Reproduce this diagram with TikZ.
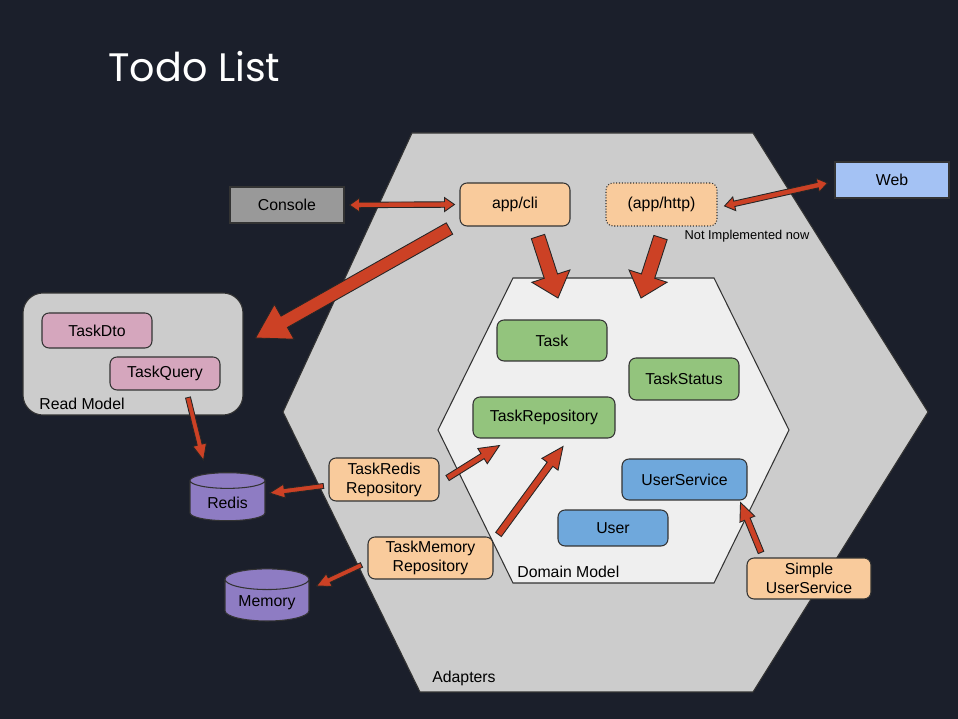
\documentclass[tikz,border=0pt]{standalone}
\usepackage{fontspec}
\setmainfont{Liberation Sans}
\newfontfamily\titlefont{Poppins}
\usetikzlibrary{shapes.geometric, calc, positioning}

\definecolor{bgnavy}{HTML}{1B1F2B}
\definecolor{hexgray}{HTML}{CCCCCC}
\definecolor{hexlight}{HTML}{EFEFEF}
\definecolor{peach}{HTML}{F9CB9C}
\definecolor{leaf}{HTML}{93C47D}
\definecolor{skyblue}{HTML}{6FA8DC}
\definecolor{paleblue}{HTML}{A4C2F4}
\definecolor{pinkish}{HTML}{D5A6BD}
\definecolor{lavender}{HTML}{8E7CC3}
\definecolor{consolegray}{HTML}{999999}
\definecolor{arrowred}{HTML}{CC4125}
\definecolor{edgedark}{HTML}{333333}

\tikzset{
  txt/.style={font=\fontsize{9}{10.8}\selectfont, text=black, align=center},
  box/.style={txt, draw=edgedark, line width=0.6pt, rounded corners=4pt, inner sep=2pt},
  adapterbox/.style={box, fill=peach, minimum width=2.2cm, minimum height=0.86cm},
  domainbox/.style={box, fill=leaf, minimum width=2.2cm, minimum height=0.82cm},
  userbox/.style={box, fill=skyblue, minimum width=2.2cm, minimum height=0.82cm},
  querybox/.style={box, fill=pinkish, minimum width=2.2cm, minimum height=0.68cm},
  plainbox/.style={txt, draw=edgedark, line width=0.6pt, minimum width=2.28cm, minimum height=0.72cm},
  db/.style={txt, cylinder, shape border rotate=90, aspect=0.3, draw=edgedark, line width=0.6pt, fill=lavender},
  lbl/.style={txt, inner sep=0pt, anchor=west},
  fat/.style={fill=arrowred, draw=black!85, line width=0.5pt, line join=miter},
}

% block arrow: tail, tip, half shaft, head length, half head
\newcommand{\fatarrow}[5]{%
  \coordinate (fa-t) at (#1);
  \coordinate (fa-h) at (#2);
  \coordinate (fa-b) at ($(fa-h)!#4!(fa-t)$);
  \filldraw[fat] ($(fa-t)!#3!90:(fa-h)$) -- ($(fa-b)!#3!-90:(fa-t)$)
    -- ($(fa-b)!#5!-90:(fa-t)$) -- (fa-h) -- ($(fa-b)!#5!90:(fa-t)$)
    -- ($(fa-b)!#3!90:(fa-t)$) -- ($(fa-t)!#3!-90:(fa-h)$) -- cycle;
}
% block arrow with two heads
\newcommand{\fatdarrow}[5]{%
  \coordinate (fa-a) at (#1);
  \coordinate (fa-h) at (#2);
  \coordinate (fa-b) at ($(fa-h)!#4!(fa-a)$);
  \coordinate (fa-c) at ($(fa-a)!#4!(fa-h)$);
  \filldraw[fat] (fa-a) -- ($(fa-c)!#5!90:(fa-h)$) -- ($(fa-c)!#3!90:(fa-h)$)
    -- ($(fa-b)!#3!-90:(fa-a)$) -- ($(fa-b)!#5!-90:(fa-a)$) -- (fa-h)
    -- ($(fa-b)!#5!90:(fa-a)$) -- ($(fa-b)!#3!90:(fa-a)$)
    -- ($(fa-c)!#3!-90:(fa-h)$) -- ($(fa-c)!#5!-90:(fa-h)$) -- cycle;
}

\begin{document}
\begin{tikzpicture}[x=0.02cm, y=-0.02cm]
% Background
\fill[bgnavy] (0,0) rectangle (958,719);
\useasboundingbox (0,0) rectangle (958,719);

\node[anchor=base west, inner sep=0pt, text=white, font=\titlefont\fontsize{22.6}{26}\selectfont] (title) at (108,82) {Todo List};

% Adapters ring
\draw[fill=hexgray, draw=edgedark, line width=0.6pt] (412,133) -- (753,133) -- (928,412) -- (753,692) -- (420,692) -- (283,412) -- cycle;
\node[lbl] (adapterslbl) at (432,678) {Adapters};

% Domain core
\coordinate (dtop) at (513,278);
\draw[fill=hexlight, draw=edgedark, line width=0.6pt] (dtop) -- (714,278) -- (789,430) -- (714,583) -- (513,583) -- (438,430) -- cycle;
\node[lbl] (domainlbl) at (517,572) {Domain Model};

% Read model
\node[draw=edgedark, line width=0.6pt, fill=hexgray, rounded corners=0.4cm, minimum width=4.4cm, minimum height=2.44cm] (readmodel) at (133,354) {};
\node[lbl] (readlbl) at (39,404) {Read Model};
\node[querybox, minimum height=0.7cm] (taskdto) at (97,330.5) {TaskDto};
\node[querybox, minimum height=0.66cm] (taskquery) at (165,373.5) {TaskQuery};

% Drivers
\node[plainbox, fill=consolegray] (console) at (287,205) {Console};
\node[plainbox, fill=paleblue] (web) at (892,180) {Web};
\node[adapterbox] (cli) at (515,204.5) {app/cli};
\node[adapterbox, minimum width=2.22cm, densely dotted] (http) at (661.5,204.5) {(app/http)};
\node[txt, font=\fontsize{7.3}{9}\selectfont] (notimpl) at (747,236) {Not Implemented now};

% Domain objects
\node[domainbox] (task) at (552,340.5) {Task};
\node[domainbox, minimum height=0.84cm] (taskstatus) at (684,379) {TaskStatus};
\node[domainbox, minimum width=2.84cm] (taskrepo) at (544,417.5) {TaskRepository};
\node[userbox, minimum width=2.5cm] (userservice) at (684.5,479.5) {UserService};
\node[userbox, minimum height=0.72cm] (user) at (613,528) {User};

% Driven adapters
\node[adapterbox] (redisrepo) at (384,479.5) {TaskRedis\\Repository};
\node[adapterbox, minimum width=2.5cm, minimum height=0.84cm] (memrepo) at (430.5,558) {TaskMemory\\Repository};
\node[adapterbox, minimum width=2.48cm, minimum height=0.82cm] (simplesvc) at (809,578.5) {Simple\\UserService};

% Stores
\node[db, minimum width=1.5cm, minimum height=0.96cm] (redis) at (227.5,503) {Redis};
\node[db, minimum width=1.68cm, minimum height=0.96cm] (memory) at (267,603) {Memory};

% Arrows
\fatdarrow{$(console.east)+(5,0)$}{$(cli.west)+(-5,0)$}{0.055cm}{0.2cm}{0.14cm}
\fatdarrow{$(http.east)+(7,1.5)$}{$(web.west)+(-7,3)$}{0.055cm}{0.2cm}{0.14cm}
\fatarrow{$(cli.south west)+(-10,2)$}{$(readmodel.east)+(12,-16)$}{0.13cm}{0.66cm}{0.4cm}
\fatarrow{$(cli.south)+(23,10)$}{$(dtop)+(45,20)$}{0.14cm}{0.46cm}{0.4cm}
\fatarrow{$(http.south)+(-1,11)$}{$(dtop)+(128,20)$}{0.14cm}{0.46cm}{0.4cm}
\fatarrow{$(taskquery.south)+(23,7)$}{$(redis.north)+(-24,-12)$}{0.05cm}{0.32cm}{0.14cm}
\fatarrow{$(redisrepo.west)+(-5,6.5)$}{$(redis.east)+(4,-10)$}{0.05cm}{0.3cm}{0.14cm}
\fatarrow{$(redisrepo.east)+(8,-1.5)$}{$(taskrepo.south west)+(27,7)$}{0.06cm}{0.4cm}{0.18cm}
\fatarrow{$(memrepo.north east)+(5,-2)$}{$(taskrepo.south)+(19,8)$}{0.07cm}{0.44cm}{0.2cm}
\fatarrow{$(memrepo.west)+(-6,7)$}{$(memory.east)+(7,-17)$}{0.05cm}{0.28cm}{0.14cm}
\fatarrow{$(simplesvc.north)+(-48,-5)$}{$(userservice.south east)+(-7,2)$}{0.06cm}{0.36cm}{0.16cm}
\end{tikzpicture}
\end{document}
